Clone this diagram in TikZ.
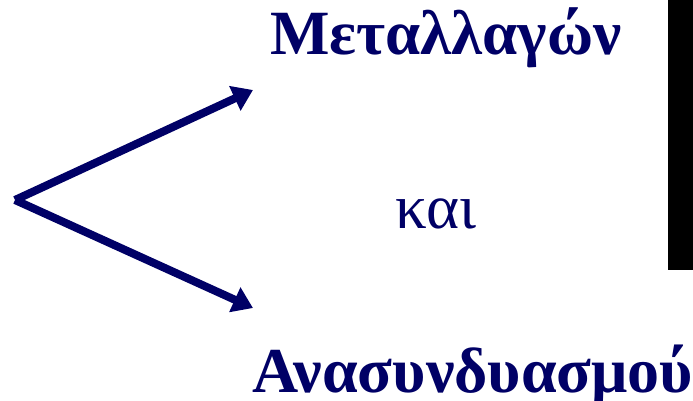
\documentclass[tikz,border=0pt]{standalone}
\usepackage{fontspec}
\setmainfont{Liberation Serif}
\usetikzlibrary{arrows.meta}
\definecolor{navy}{RGB}{0,0,102}
\begin{document}
\begin{tikzpicture}[x=1pt,y=1pt,
  word/.style={text=navy,inner sep=0pt,anchor=base west},
  arr/.style={draw=navy,line width=8pt,-{Triangle[length=20pt,width=26pt]}}]
\useasboundingbox (0,0) rectangle (693,400);
\fill[black] (668,130) rectangle (693,400);
\node[word,font=\bfseries\fontsize{63}{65}\selectfont] (top) at (270,345) {Μεταλλαγών};
\node[word,font=\fontsize{63}{65}\selectfont] (kai) at (395,172) {και};
\node[word,font=\bfseries\fontsize{64}{66}\selectfont] (bot) at (252,8) {Ανασυνδυασμού};
\coordinate (o) at (15,200);
\coordinate (a) at (253,310);
\coordinate (b) at (253,92);
\draw[arr] (o) -- (a);
\draw[arr] (o) -- (b);
\end{tikzpicture}
\end{document}
